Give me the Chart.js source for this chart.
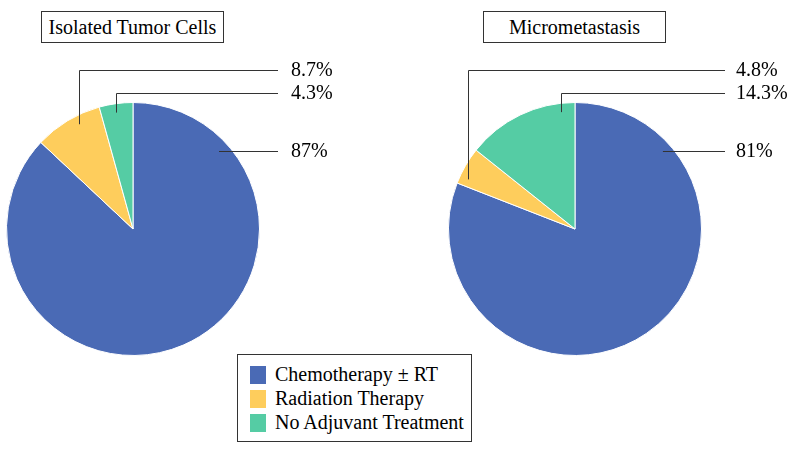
<!DOCTYPE html>
<html>
<head>
<meta charset="utf-8">
<script src="https://cdn.jsdelivr.net/npm/chart.js@4"></script>
<style>
  body { margin: 0; background: #fff; }
  #wrap { position: relative; width: 800px; height: 453px; font-family: "Liberation Serif", "Times New Roman", serif; }
  .pane { position: absolute; top: 0; width: 400px; height: 453px; }
  .titulo { position: absolute; top: 11px; height: 30px; width: 181px; border: 1px solid #333;
            font-size: 20px; line-height: 30px; text-align: center; color: #000; background: #fff; }
  #leyenda { position: absolute; left: 237px; top: 354px; width: 233px; height: 86px; border: 1px solid #333;
             background: #fff; font-size: 20px; color: #000; }
  #leyenda div { position: absolute; left: 12px; height: 24px; line-height: 24px; }
  #leyenda span { display: inline-block; width: 16px; height: 18px; vertical-align: -3px; margin-right: 9px; }
</style>
</head>
<body>
<div id="wrap">
  <div class="pane" style="left:0"><canvas id="izq" width="400" height="453"></canvas></div>
  <div class="pane" style="left:400px"><canvas id="der" width="400" height="453"></canvas></div>
  <div class="titulo" style="left:41px">Isolated Tumor Cells</div>
  <div class="titulo" style="left:483px">Micrometastasis</div>
  <div id="leyenda"></div>
</div>
<script>
// Categorías y datos
var categorias = ['Chemotherapy \u00b1 RT', 'Radiation Therapy', 'No Adjuvant Treatment'];
var colores = ['#4a6ab5', '#fecd5c', '#55cca4'];
var datosITC = [87, 8.7, 4.3];
var etiquetasITC = ['87%', '8.7%', '4.3%'];
var datosMicro = [81, 4.8, 14.3];
var etiquetasMicro = ['81%', '4.8%', '14.3%'];

// Leyenda
var leyenda = document.getElementById('leyenda');
categorias.forEach(function (c, i) {
    var d = document.createElement('div');
    d.style.top = (7 + i * 24) + 'px';
    d.innerHTML = '<span style="background:' + colores[i] + '"></span>' + c;
    leyenda.appendChild(d);
});

// Plugin para las líneas guía y los porcentajes
var lineasGuia = {
    id: 'lineasGuia',
    afterDraw: function (chart, args, opts) {
        var ctx = chart.ctx;
        var arcos = chart.getDatasetMeta(0).data;
        ctx.save();
        ctx.strokeStyle = '#333';
        ctx.lineWidth = 1;
        ctx.fillStyle = '#000';
        ctx.font = '20px "Liberation Serif", "Times New Roman", serif';
        ctx.textBaseline = 'middle';
        arcos.forEach(function (arco, i) {
            var p = arco.getProps(['x', 'y', 'startAngle', 'endAngle', 'outerRadius'], true);
            var ang = p.startAngle + opts.frac[i] * (p.endAngle - p.startAngle);
            var ax = p.x + Math.cos(ang) * p.outerRadius * 0.93;
            var ay = p.y + Math.sin(ang) * p.outerRadius * 0.93;
            var ly = opts.filas[i];
            ctx.beginPath();
            if (i === 0) {
                ctx.moveTo(ax, ly + 0.5);
            } else {
                ctx.moveTo(Math.round(ax) + 0.5, ay);
                ctx.lineTo(Math.round(ax) + 0.5, ly + 0.5);
            }
            ctx.lineTo(opts.finLinea, ly + 0.5);
            ctx.stroke();
            ctx.fillText(opts.textos[i], opts.xTexto, ly + 1);
        });
        ctx.restore();
    }
};

function crearPastel(id, datos, textos, padding, guia) {
    return new Chart(document.getElementById(id).getContext('2d'), {
        type: 'pie',
        data: {
            labels: categorias,
            datasets: [{
                data: datos,
                backgroundColor: colores,
                borderColor: '#ffffff',
                borderWidth: 1
            }]
        },
        options: {
            responsive: false,
            animation: false,
            layout: { padding: padding },
            plugins: {
                legend: { display: false },
                tooltip: { enabled: false },
                lineasGuia: Object.assign({ textos: textos }, guia)
            }
        },
        plugins: [lineasGuia]
    });
}

crearPastel('izq', datosITC, etiquetasITC,
    { left: 6, right: 140, top: 102, bottom: 97 },
    { frac: [0.15, 0.63, 0.46], filas: [151, 70, 93], finLinea: 278, xTexto: 291 });

crearPastel('der', datosMicro, etiquetasMicro,
    { left: 48, right: 98, top: 102, bottom: 97 },
    { frac: [0.166, 0.21, 0.87], filas: [151, 70, 93], finLinea: 325, xTexto: 336 });
</script>
</body>
</html>
